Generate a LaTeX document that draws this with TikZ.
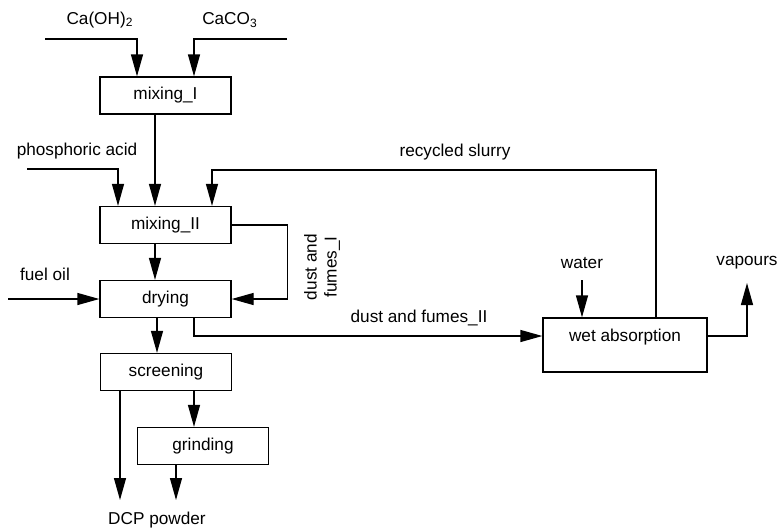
\documentclass[tikz,border=0pt]{standalone}
\usepackage{fontspec}
\setmainfont{Liberation Sans}
\usetikzlibrary{arrows.meta}
\tikzset{unit/.style={draw, rectangle, minimum width=65.5pt, minimum height=18.5pt, inner sep=0pt},
  arr/.style={-{Triangle[length=11pt, width=6pt]}}}

\begin{document}
\begin{tikzpicture}[x=0.5pt, y=-0.5pt, line width=0.65pt, font=\fontsize{8.6}{10}\selectfont]
  \useasboundingbox (0,0) rectangle (778,527);
  % process units
  \node [unit] (mixI) at (165.5,95.5) {mixing\_I};
  \node [unit] (mixII) at (165.5,225) {mixing\_II};
  \node [unit] (drying) at (165.5,299) {drying};
  \node [unit] (screening) at (166,372) {screening};
  \node [unit] (grinding) at (203,446) {grinding};
  \node [unit, minimum width=82pt, minimum height=27pt] (wet) at (625,345) {};
  \node (wetlbl) at (625,337) {wet absorption};
  % stream labels
  \node (coh) at (100,20) {Ca(OH)\textsubscript{2}};
  \node (caco) at (230,20) {CaCO\textsubscript{3}};
  \node (phos) at (77,151) {phosphoric acid};
  \node (fuel) at (45,274) {fuel oil};
  \node (slurrylbl) at (455,152) {recycled slurry};
  \node [rotate=90, align=center] (dustIlbl) at (322,267) {dust and\\fumes\_I};
  \node (dustIIlbl) at (419,318) {dust and fumes\_II};
  \node (water) at (582,263) {water};
  \node (vapours) at (747,263) {vapours};
  \node (dcp) at (157,520) {DCP powder};
  % free ends
  \coordinate (cohIn) at (45,39);
  \coordinate (cacoIn) at (287,39);
  \coordinate (phosIn) at (27,169);
  \coordinate (fuelIn) at (8,299);
  \coordinate (slurry) at (656,170);
  \coordinate (waterIn) at (582,280);
  \coordinate (vapOut) at (747,283);
  \coordinate (dcpA) at (120,500);
  \coordinate (dcpB) at (176,500);
  % streams
  \draw [arr] (cohIn) -| ([xshift=-14.25pt]mixI.north);
  \draw [arr] (cacoIn) -| ([xshift=14.25pt]mixI.north);
  \draw [arr] ([xshift=-5.25pt]mixI.south) -- ([xshift=-5.25pt]mixII.north);
  \draw [arr] (phosIn) -| ([xshift=-23.75pt]mixII.north);
  \draw [arr] ([xshift=15.5pt]wet.north) -- (slurry) -| ([xshift=23.25pt]mixII.north);
  \draw [arr] (mixII.east) -- ++(56,0) |- (drying.east);
  \draw [arr] (fuelIn) -- (drying.west);
  \draw [arr] ([xshift=-5.25pt]mixII.south) -- ([xshift=-5.25pt]drying.north);
  \draw [arr] ([xshift=-4.25pt]drying.south) -- ([xshift=-4.5pt]screening.north);
  \draw [arr] ([xshift=14.25pt]drying.south) |- ([yshift=4.5pt]wet.west);
  \draw [arr] (waterIn) -- (waterIn |- wet.north);
  \draw [arr] ([yshift=4.5pt]wet.east) -| (vapOut);
  \draw [arr] (screening.south -| dcpA) -- (dcpA);
  \draw [arr] ([xshift=14pt]screening.south) -- ([xshift=-4.5pt]grinding.north);
  \draw [arr] (grinding.south -| dcpB) -- (dcpB);
\end{tikzpicture}
\end{document}
